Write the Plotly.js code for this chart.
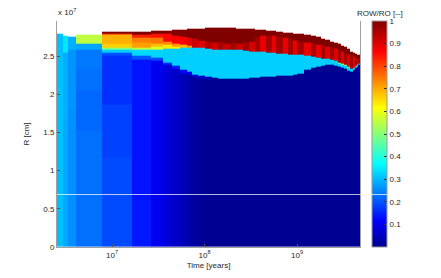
<!DOCTYPE html>
<html><head><meta charset="utf-8">
<script src="https://cdn.plot.ly/plotly-3.0.1.min.js"></script>
<style>html,body{margin:0;padding:0;background:#fff}#chart{width:441px;height:278px}</style>
</head><body><div id="chart"></div>
<script>
// Time column edges [years]
const timeEdges = [2.54e6, 2.93e6, 3.37e6, 4.06e6, 7.74e6, 1.63e7, 2.65e7, 3.55e7, 4.45e7, 5.43e7,
  6.4e7, 7.4e7, 8.6e7, 1.0e8, 1.2e8, 1.4e8, 1.6e8, 1.9e8, 2.2e8, 2.6e8, 3.0e8, 3.5e8, 4.0e8,
  4.6e8, 5.3e8, 6.0e8, 7.0e8, 8.0e8, 9.0e8, 1.0e9, 1.2e9, 1.4e9, 1.6e9, 1.8e9, 2.0e9, 2.25e9,
  2.5e9, 2.75e9, 3.0e9, 3.25e9, 3.5e9, 3.75e9, 4.0e9, 4.2e9, 4.4e9, 4.6e9, 4.8e9];

// Per column: radius boundaries [x1e7 cm], from surface down to centre
const layerBounds = [
  [2.79, 0],
  [2.762, 2.55, 1.66, 0],
  [2.755, 2.58, 1.8, 0],
  [2.775, 2.66, 2.58, 2.34, 2.05, 1.53, 0],
  [2.82, 2.79, 2.775, 2.657, 2.61, 2.58, 2.545, 2.51, 1.86, 1.165, 0],
  [2.827, 2.783, 2.74, 2.674, 2.609, 2.579, 2.5, 2.448, 0.615, 0],
  [2.834, 2.801, 2.736, 2.67, 2.618, 2.585, 2.474, 2.435, 0],
  [2.84, 2.788, 2.696, 2.644, 2.598, 2.421, 2.382, 0],
  [2.847, 2.762, 2.657, 2.618, 2.598, 2.369, 2.33, 0],
  [2.853, 2.749, 2.644, 2.605, 2.317, 2.277, 0],
  [2.86, 2.736, 2.631, 2.611, 2.291, 2.251, 0],
  [2.866, 2.723, 2.611, 2.264, 2.225, 0],
  [2.866, 2.709, 2.605, 2.238, 2.199, 0],
  [2.873, 2.696, 2.592, 2.225, 2.186, 0],
  [2.873, 2.683, 2.585, 2.212, 0],
  [2.873, 2.696, 2.579, 2.205, 0],
  [2.873, 2.67, 2.579, 2.199, 0],
  [2.873, 2.683, 2.579, 2.199, 0],
  [2.866, 2.67, 2.579, 2.199, 0],
  [2.866, 2.683, 2.572, 2.205, 0],
  [2.86, 2.696, 2.565, 2.212, 0],
  [2.853, 2.736, 2.565, 2.218, 0],
  [2.849, 2.762, 2.559, 2.225, 0],
  [2.84, 2.762, 2.552, 2.225, 0],
  [2.834, 2.762, 2.546, 2.232, 0],
  [2.827, 2.749, 2.539, 2.238, 0],
  [2.814, 2.736, 2.533, 2.238, 0],
  [2.805, 2.723, 2.526, 2.245, 0],
  [2.797, 2.709, 2.52, 2.251, 0],
  [2.788, 2.696, 2.513, 2.277, 0],
  [2.775, 2.683, 2.5, 2.317, 0],
  [2.762, 2.657, 2.487, 2.343, 0],
  [2.749, 2.644, 2.474, 2.362, 0],
  [2.729, 2.631, 2.467, 2.376, 0],
  [2.716, 2.618, 2.461, 2.382, 0],
  [2.696, 2.605, 2.448, 2.382, 0],
  [2.677, 2.592, 2.435, 2.376, 0],
  [2.657, 2.579, 2.421, 2.408, 2.362, 0],
  [2.637, 2.565, 2.408, 2.395, 2.349, 0],
  [2.618, 2.539, 2.382, 2.369, 2.33, 0],
  [2.592, 2.513, 2.356, 2.343, 2.31, 0],
  [2.565, 2.5, 2.33, 2.291, 0],
  [2.552, 2.487, 2.35, 2.317, 0],
  [2.539, 2.474, 2.369, 2.343, 0],
  [2.526, 2.461, 2.389, 2.376, 2.356, 0],
  [2.513, 2.461, 2.408, 2.382, 0]
];

// Per column: ROW/RO value of each layer
const layerValues = [
  [0.305],
  [0.344, 0.29, 0.282],
  [0.29, 0.262, 0.258],
  [0.555, 0.28, 0.235, 0.227, 0.219, 0.227],
  [1.0, 0.8, 0.694, 0.663, 0.49, 0.32, 0.195, 0.164, 0.18, 0.19],
  [1.0, 0.836, 0.742, 0.71, 0.55, 0.33, 0.2, 0.135, 0.14],
  [1.0, 0.85, 0.75, 0.68, 0.58, 0.325, 0.19, 0.101],
  [1.0, 0.86, 0.73, 0.64, 0.32, 0.16, 0.076],
  [1.0, 0.87, 0.72, 0.63, 0.32, 0.14, 0.06],
  [1.0, 0.88, 0.69, 0.32, 0.12, 0.043],
  [1.0, 0.9, 0.72, 0.32, 0.1, 0.026],
  [1.0, 0.92, 0.32, 0.08, 0.018],
  [1.0, 0.9, 0.32, 0.06, 0.009],
  [1.0, 0.95, 0.32, 0.04, 0.003],
  [1.0, 0.91, 0.32, 0.003],
  [1.0, 0.96, 0.32, 0.003],
  [1.0, 0.92, 0.32, 0.003],
  [1.0, 0.96, 0.32, 0.003],
  [1.0, 0.92, 0.32, 0.003],
  [1.0, 0.96, 0.32, 0.003],
  [1.0, 0.91, 0.32, 0.003],
  [1.0, 0.96, 0.32, 0.003],
  [1.0, 0.89, 0.32, 0.003],
  [1.0, 0.96, 0.32, 0.003],
  [1.0, 0.89, 0.32, 0.003],
  [1.0, 0.96, 0.32, 0.003],
  [1.0, 0.89, 0.32, 0.003],
  [1.0, 0.96, 0.32, 0.003],
  [1.0, 0.89, 0.32, 0.003],
  [1.0, 0.96, 0.32, 0.003],
  [1.0, 0.89, 0.32, 0.003],
  [1.0, 0.96, 0.32, 0.003],
  [1.0, 0.89, 0.32, 0.003],
  [1.0, 0.96, 0.32, 0.003],
  [1.0, 0.9, 0.32, 0.003],
  [1.0, 0.96, 0.32, 0.003],
  [1.0, 0.9, 0.32, 0.003],
  [1.0, 0.96, 0.5, 0.32, 0.003],
  [1.0, 0.9, 0.55, 0.32, 0.003],
  [1.0, 0.96, 0.5, 0.32, 0.003],
  [1.0, 0.9, 0.5, 0.32, 0.003],
  [1.0, 0.96, 0.32, 0.003],
  [1.0, 0.9, 0.32, 0.003],
  [1.0, 0.96, 0.32, 0.003],
  [1.0, 0.9, 0.45, 0.32, 0.003],
  [1.0, 0.96, 0.32, 0.003]
];

const yTickVals = [0, 0.5, 1, 1.5, 2, 2.5];
const yTickText = ['0', '0.5', '1', '1.5', '2', '2.5'];
const xTickVals = [1e7, 1e8, 1e9];
const xTickText = ['10<sup>7</sup>', '10<sup>8</sup>', '10<sup>9</sup>'];
const cbTickVals = [0.1, 0.2, 0.3, 0.4, 0.5, 0.6, 0.7, 0.8, 0.9, 1];
const cbTickText = ['0.1', '0.2', '0.3', '0.4', '0.5', '0.6', '0.7', '0.8', '0.9', '1'];
const markerLineR = 0.69;

// Build rectilinear grid from the layer tables
const edgeSet = new Set();
layerBounds.forEach(b => b.forEach(r => edgeSet.add(r)));
const rEdges = Array.from(edgeSet).sort((a, b) => a - b);
const z = [];
for (let j = 0; j < rEdges.length - 1; j++) {
  const mid = (rEdges[j] + rEdges[j + 1]) / 2;
  const row = [];
  for (let i = 0; i < layerBounds.length; i++) {
    const b = layerBounds[i], v = layerValues[i];
    let val = null;
    if (mid < b[0]) {
      for (let k = 0; k < v.length; k++) {
        if (mid < b[k] && mid >= b[k + 1]) { val = v[k]; break; }
      }
    }
    row.push(val);
  }
  z.push(row);
}

const jet = [[0, 'rgb(0,0,143)'], [0.117, 'rgb(0,0,255)'], [0.367, 'rgb(0,255,255)'],
  [0.617, 'rgb(255,255,0)'], [0.867, 'rgb(255,0,0)'], [1, 'rgb(128,0,0)']];

const font = {family: 'Liberation Sans, Arial, sans-serif', size: 8, color: '#262626'};

const trace = {
  type: 'heatmap', x: timeEdges, y: rEdges, z: z, zmin: 0, zmax: 1,
  colorscale: jet, zsmooth: false, hoverinfo: 'skip',
  colorbar: {
    thickness: 15, thicknessmode: 'pixels', len: 1, lenmode: 'fraction',
    x: 1.0396, xanchor: 'left', xpad: 0, y: 0, yanchor: 'bottom', ypad: 0,
    outlinewidth: 1, outlinecolor: '#9a9a9a',
    tickmode: 'array', tickvals: cbTickVals, ticktext: cbTickText,
    ticks: 'inside', ticklen: 3, tickcolor: '#333', tickfont: font
  }
};

const layout = {
  width: 441, height: 278,
  margin: {l: 57, r: 81, t: 21, b: 31},
  paper_bgcolor: '#fff', plot_bgcolor: '#fff',
  font: font,
  xaxis: {
    type: 'log', range: [Math.log10(timeEdges[0]), Math.log10(timeEdges[timeEdges.length - 1])],
    tickmode: 'array', tickvals: xTickVals, ticktext: xTickText,
    ticks: 'inside', ticklen: 3, tickcolor: '#555',
    showline: true, linecolor: '#a0a0a0', linewidth: 1, mirror: false,
    showgrid: false, zeroline: false, tickfont: font,
    title: {text: 'Time [years]', font: font, standoff: 3}
  },
  yaxis: {
    range: [0, 2.96], tickmode: 'array', tickvals: yTickVals, ticktext: yTickText,
    ticks: 'inside', ticklen: 3, tickcolor: '#555',
    showline: true, linecolor: '#a0a0a0', linewidth: 1, mirror: true,
    showgrid: false, zeroline: false, tickfont: font,
    title: {text: 'R [cm]', font: font, standoff: 12}
  },
  annotations: [
    {xref: 'paper', yref: 'paper', x: -0.003, y: 1.01, xanchor: 'left', yanchor: 'bottom',
     text: 'x 10<sup>7</sup>', showarrow: false, font: font},
    {xref: 'paper', yref: 'paper', x: 1.066, y: 1.035, xanchor: 'center', yanchor: 'middle',
     text: 'ROW/RO [--]', showarrow: false, font: font},
    {xref: 'paper', yref: 'y', x: 0, y: markerLineR, xanchor: 'left', yanchor: 'middle',
     text: ' ', showarrow: false, font: {size: 1}, width: 330, height: 1,
     borderpad: 0, borderwidth: 0, bgcolor: 'rgba(255,255,255,0.72)'}
  ]
};

Plotly.newPlot('chart', [trace], layout, {displayModeBar: false, staticPlot: true});
</script>
</body></html>
